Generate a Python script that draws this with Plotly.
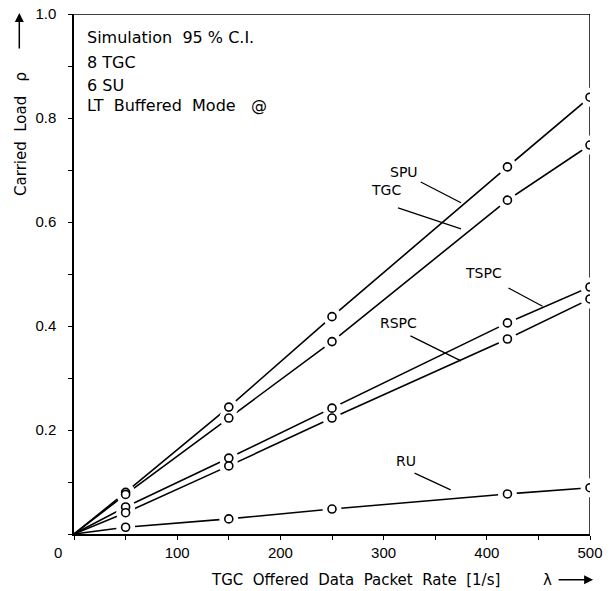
import plotly.graph_objects as go

# ---- data ----
rate = [50, 150, 250, 420, 500]
spu = [0.080, 0.244, 0.418, 0.706, 0.840]
tgc = [0.076, 0.223, 0.370, 0.642, 0.748]
tspc = [0.052, 0.146, 0.242, 0.406, 0.475]
rspc = [0.041, 0.131, 0.223, 0.375, 0.452]
ru = [0.013, 0.029, 0.048, 0.077, 0.089]
series_names = ["SPU", "TGC", "TSPC", "RSPC", "RU"]
series_vals = [spu, tgc, tspc, rspc, ru]

# label positions (data coords) and leader lines
label_pos = {
    "SPU": (320, 0.696),
    "TGC": (302, 0.662),
    "TSPC": (397, 0.502),
    "RSPC": (314, 0.406),
    "RU": (322, 0.140),
}
leaders = {
    "SPU": ((336, 0.677), (375, 0.637)),
    "TGC": ((314, 0.627), (375, 0.587)),
    "TSPC": ((421, 0.473), (454, 0.438)),
    "RSPC": ((326, 0.381), (375, 0.333)),
    "RU": ((330, 0.117), (365, 0.085)),
}

x_ticks = list(range(0, 501, 50))
x_text = [str(v) if (v % 100 == 0 and v > 0) else "" for v in x_ticks]
y_ticks = [i / 10 for i in range(0, 11)]
y_text = [f"{v:.1f}" if (round(v * 10) % 2 == 0 and v > 0) else "" for v in y_ticks]

FONT = "Liberation Sans"
TFONT = "DejaVu Sans"
fig = go.Figure()

# lines (start at origin)
for name, vals in zip(series_names, series_vals):
    fig.add_trace(go.Scatter(x=[0] + rate, y=[0] + vals, mode="lines",
                             line=dict(color="black", width=1.6), showlegend=False,
                             hoverinfo="skip"))
# white halos for gaps around markers
for name, vals in zip(series_names, series_vals):
    fig.add_trace(go.Scatter(x=rate, y=vals, mode="markers",
                             marker=dict(size=19, color="white", line=dict(width=0)),
                             showlegend=False, hoverinfo="skip"))
# open circle markers
for name, vals in zip(series_names, series_vals):
    fig.add_trace(go.Scatter(x=rate, y=vals, mode="markers", name=name,
                             marker=dict(size=8, color="white",
                                         line=dict(color="black", width=1.6)),
                             showlegend=False))

shapes = []
# top and right borders (below traces so markers cut them)
shapes.append(dict(type="line", xref="x", yref="y", x0=0, x1=500, y0=1, y1=1,
                   line=dict(color="black", width=1.5), layer="below"))
shapes.append(dict(type="line", xref="x", yref="y", x0=500, x1=500, y0=0, y1=1,
                   line=dict(color="black", width=1.5), layer="below"))
for name, ((x0, y0), (x1, y1)) in leaders.items():
    shapes.append(dict(type="line", xref="x", yref="y", x0=x0, y0=y0, x1=x1, y1=y1,
                       line=dict(color="black", width=1.3)))

annotations = []
for name, (lx, ly) in label_pos.items():
    annotations.append(dict(x=lx, y=ly, xref="x", yref="y", text=name, showarrow=False,
                            font=dict(family=TFONT, size=14, color="black")))

info_lines = [("Simulation  95 % C.I.", 0.954), ("8 TGC", 0.906), ("6 SU", 0.863),
              ("LT  Buffered  Mode   @", 0.825)]
for txt, py in info_lines:
    annotations.append(dict(x=0.021, y=py, xref="paper", yref="paper", text=txt,
                            showarrow=False, xanchor="left", yanchor="middle",
                            font=dict(family=TFONT, size=16, color="black")))

# shared zero label
annotations.append(dict(x=-0.031, y=-0.0365, xref="paper", yref="paper", text="0",
                        showarrow=False, xanchor="center", yanchor="middle",
                        font=dict(family=FONT, size=15, color="black")))
# x title and arrow
annotations.append(dict(x=0.546, y=-0.088, xref="paper", yref="paper",
                        text="TGC  Offered  Data  Packet  Rate  [1/s]", showarrow=False,
                        xanchor="center", yanchor="middle",
                        font=dict(family=TFONT, size=15, color="black")))
annotations.append(dict(x=0.917, y=-0.088, xref="paper", yref="paper", text="λ",
                        showarrow=False, xanchor="center", yanchor="middle",
                        font=dict(family=TFONT, size=15, color="black")))
annotations.append(dict(x=1.006, y=-0.088, xref="paper", yref="paper", text="",
                        showarrow=True, ax=-36, ay=0, arrowhead=2, arrowsize=1.2,
                        arrowwidth=1.5, arrowcolor="black"))
# y title and arrow
annotations.append(dict(x=-0.104, y=0.77, xref="paper", yref="paper",
                        text="Carried  Load   ρ", textangle=-90, showarrow=False,
                        xanchor="center", yanchor="middle",
                        font=dict(family=TFONT, size=15, color="black")))
annotations.append(dict(x=-0.106, y=1.002, xref="paper", yref="paper", text="",
                        showarrow=True, ax=0, ay=37, arrowhead=2, arrowsize=1.2,
                        arrowwidth=1.5, arrowcolor="black"))

fig.update_layout(
    width=614, height=591,
    margin=dict(l=74, r=24, t=14, b=57, autoexpand=False),
    paper_bgcolor="white", plot_bgcolor="white",
    shapes=shapes, annotations=annotations,
    font=dict(family=FONT, size=15, color="black"),
)
fig.update_xaxes(range=[0, 500], showgrid=False, zeroline=False, showline=True,
                 automargin=False,
                 linecolor="black", linewidth=1.5, ticks="outside", ticklen=4,
                 tickwidth=1.3, tickcolor="black", tickvals=x_ticks, ticktext=x_text,
                 tickfont=dict(family=FONT, size=15, color="black"))
fig.update_yaxes(range=[0, 1], showgrid=False, zeroline=False, showline=True,
                 automargin=False, ticklabelstandoff=9,
                 linecolor="black", linewidth=1.5, ticks="outside", ticklen=4,
                 tickwidth=1.3, tickcolor="black", tickvals=y_ticks, ticktext=y_text,
                 tickfont=dict(family=FONT, size=15, color="black"))

fig.write_html("out.html", config={"displayModeBar": False},
               post_script="document.body.style.margin='0';document.body.style.overflow='hidden';")
